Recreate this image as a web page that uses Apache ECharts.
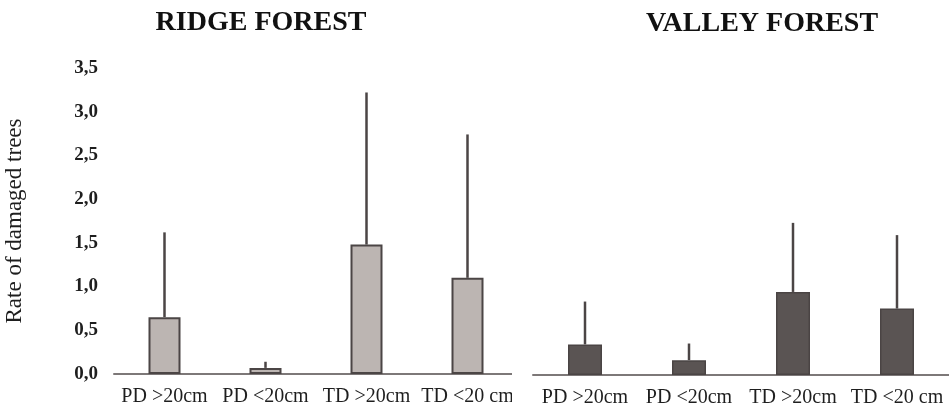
<!DOCTYPE html>
<html>
<head>
<meta charset="utf-8">
<script src="https://cdn.jsdelivr.net/npm/echarts@6/dist/echarts.min.js"></script>
<style>
  html, body { margin: 0; padding: 0; background: #ffffff; }
  #chart { width: 949px; height: 409px; }
</style>
</head>
<body>
<div id="chart"></div>
<script>
// Damage classes shown on both panels
const categories = ['PD >20cm', 'PD <20cm', 'TD >20cm', 'TD <20 cm'];
const yTicks = [0, 0.5, 1, 1.5, 2, 2.5, 3, 3.5];

// Ridge forest: mean rate and standard deviation
const ridgeMean = [0.65, 0.07, 1.48, 1.10];
const ridgeSD = [0.97, 0.07, 1.74, 1.64];

// Valley forest: mean rate and standard deviation
const valleyMean = [0.35, 0.17, 0.95, 0.76];
const valleySD = [0.49, 0.19, 0.79, 0.84];

const serif = '"Liberation Serif", "Times New Roman", serif';
const inkColor = '#4b4545';

// Upward-only error whisker, from bar top to mean + SD
function whisker(params, api) {
  const x = api.value(0);
  const low = api.coord([x, api.value(1)]);
  const high = api.coord([x, api.value(2)]);
  return {
    type: 'line',
    shape: { x1: low[0], y1: low[1], x2: high[0], y2: high[1] },
    style: { stroke: inkColor, lineWidth: 2.5 }
  };
}

function whiskerData(mean, sd) {
  return mean.map((m, i) => [i, m, m + sd[i]]);
}

const chart = echarts.init(document.getElementById('chart'), null, { renderer: 'canvas' });

const xAxisBase = {
  type: 'category',
  data: categories,
  axisLine: { lineStyle: { color: '#7d7878', width: 2 } },
  axisTick: { show: false },
  axisLabel: { fontFamily: serif, fontSize: 20, color: '#1e1e1e', margin: 13, interval: 0 }
};

chart.setOption({
  animation: false,
  backgroundColor: '#ffffff',
  title: [
    {
      text: 'RIDGE FOREST', left: 261, top: 9, textAlign: 'center', padding: 0,
      textStyle: { fontFamily: serif, fontSize: 28, fontWeight: 'bold', color: '#111' }
    },
    {
      text: 'VALLEY FOREST', left: 762, top: 10, textAlign: 'center', padding: 0,
      textStyle: { fontFamily: serif, fontSize: 28, fontWeight: 'bold', color: '#111' }
    }
  ],
  grid: [
    { left: 114, top: 68, width: 404, height: 306, outerBoundsMode: 'none' },
    { left: 533, top: 69, width: 416, height: 306, outerBoundsMode: 'none' }
  ],
  xAxis: [
    Object.assign({ gridIndex: 0 }, xAxisBase),
    Object.assign({ gridIndex: 1 }, xAxisBase)
  ],
  yAxis: [
    {
      gridIndex: 0, type: 'value', min: 0, max: 3.5, interval: 0.5,
      name: 'Rate of damaged trees', nameLocation: 'middle', nameGap: 88,
      nameTextStyle: { fontFamily: serif, fontSize: 23, color: '#1e1e1e' },
      axisLine: { show: false }, axisTick: { show: false }, splitLine: { show: false },
      axisLabel: {
        fontFamily: serif, fontSize: 19, fontWeight: 'bold', color: '#1e1e1e', margin: 16,
        formatter: v => yTicks.indexOf(v) >= 0 ? v.toFixed(1).replace('.', ',') : ''
      }
    },
    {
      gridIndex: 1, type: 'value', min: 0, max: 3.5, interval: 0.5,
      axisLine: { show: false }, axisTick: { show: false }, splitLine: { show: false },
      axisLabel: { show: false }
    }
  ],
  // The valley panel's margin trims the end of the ridge panel's axis and last label
  graphic: [
    {
      type: 'rect', left: 512, top: 366, z: 100,
      shape: { width: 20, height: 43 },
      style: { fill: '#ffffff' }
    }
  ],
  series: [
    {
      type: 'bar', xAxisIndex: 0, yAxisIndex: 0, data: ridgeMean, barWidth: 32,
      itemStyle: { color: '#bcb5b2', borderColor: inkColor, borderWidth: 2 }, z: 3
    },
    {
      type: 'custom', xAxisIndex: 0, yAxisIndex: 0, renderItem: whisker,
      data: whiskerData(ridgeMean, ridgeSD), z: 2
    },
    {
      type: 'bar', xAxisIndex: 1, yAxisIndex: 1, data: valleyMean, barWidth: 34,
      itemStyle: { color: '#5a5453', borderColor: '#4a4444', borderWidth: 1.5 }, z: 3
    },
    {
      type: 'custom', xAxisIndex: 1, yAxisIndex: 1, renderItem: whisker,
      data: whiskerData(valleyMean, valleySD), z: 2
    }
  ]
});
</script>
</body>
</html>
